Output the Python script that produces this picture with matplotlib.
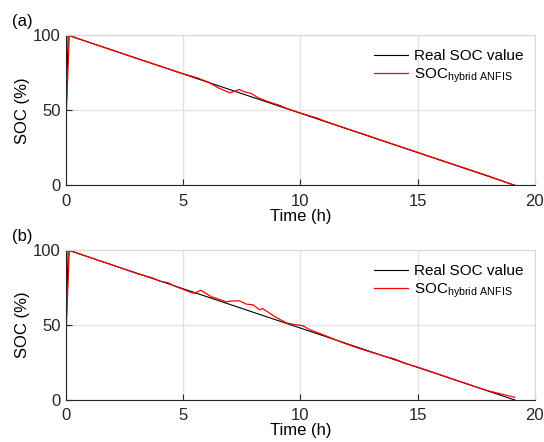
import numpy as np
import matplotlib.pyplot as plt

plt.rcParams['font.family'] = ['Liberation Sans', 'DejaVu Sans']

# real SOC (same for both panels)
t_real = [0.0, 0.1, 19.15]
soc_real = [40, 100, 0]

# hybrid ANFIS estimate, panel (a)
t_a = [0, 0.15, 1, 2, 3, 4, 5, 5.6, 6.1, 6.5, 7.0, 7.4, 7.6, 7.9, 8.2, 8.6,
       9.1, 9.5, 10, 10.8, 11, 12, 13, 14, 15, 16, 17, 18, 19.1]
soc_a = [40, 100, 95.3, 90.1, 84.8, 79.6, 74.4, 71.7, 68.6, 65.0, 61.6, 63.9,
         62.4, 61.3, 58.4, 55.9, 53.4, 50.8, 48.2, 44.4, 43.0, 37.7, 32.5,
         27.2, 22.0, 16.7, 11.5, 6.3, 0.0]

# hybrid ANFIS estimate, panel (b)
t_b = [0, 0.15, 1, 2, 3, 3.7, 4.0, 4.35, 4.7, 5.0, 5.3, 5.5, 5.75, 6.2, 6.85,
       7.0, 7.4, 7.7, 8.0, 8.25, 8.4, 8.9, 9.4, 9.7, 10.1, 10.4, 10.9, 11.3,
       11.8, 12.4, 13.0, 13.5, 14.0, 14.5, 15, 16, 17, 18, 19.15]
soc_b = [40, 100, 95.3, 90.0, 84.6, 81.5, 79.3, 78.3, 75.6, 73.9, 72.0, 71.2,
         73.3, 69.0, 65.5, 66.0, 66.2, 64.0, 63.5, 60.3, 61.0, 55.8, 51.5,
         50.5, 49.6, 47.0, 44.0, 41.5, 38.3, 35.0, 32.0, 29.6, 27.5, 24.3,
         22.0, 16.7, 11.4, 6.2, 1.8]

fig = plt.figure(figsize=(5.44, 4.42), dpi=100)
ax_a = fig.add_axes([0.121, 0.581, 0.862, 0.339])
ax_b = fig.add_axes([0.121, 0.095, 0.862, 0.339])

for ax, t_est, soc_est, tag in [(ax_a, t_a, soc_a, '(a)'), (ax_b, t_b, soc_b, '(b)')]:
    ax.plot(t_real, soc_real, color='black', lw=0.8, label='Real SOC value')
    ax.plot(t_est, soc_est, color='red', lw=0.9, label='SOC$_{\\mathregular{hybrid\\ ANFIS}}$')
    ax.set_xlim(0, 20)
    ax.set_ylim(0, 100)
    ax.set_xticks([0, 5, 10, 15, 20])
    ax.set_yticks([0, 50, 100])
    ax.grid(True, color='#e3e3e3', lw=1)
    ax.set_axisbelow(True)
    for s in ['top', 'right']:
        ax.spines[s].set_color('#d9d9d9')
    for s in ['left', 'bottom']:
        ax.spines[s].set_color('#262626')
    ax.tick_params(direction='in', length=4, labelsize=12, colors='#262626')
    ax.tick_params(axis='x', pad=6)
    ax.set_xlabel('Time (h)', fontsize=12, labelpad=0)
    ax.set_ylabel('SOC (%)', fontsize=12, labelpad=2)
    ax.legend(loc='upper right', frameon=False, fontsize=11, handlelength=2.2,
              handletextpad=0.4, labelspacing=0.2, bbox_to_anchor=(1.005, 1.0))
    ax.text(-0.115, 1.06, tag, transform=ax.transAxes, fontsize=12)

fig.savefig('out.png', dpi=100)
